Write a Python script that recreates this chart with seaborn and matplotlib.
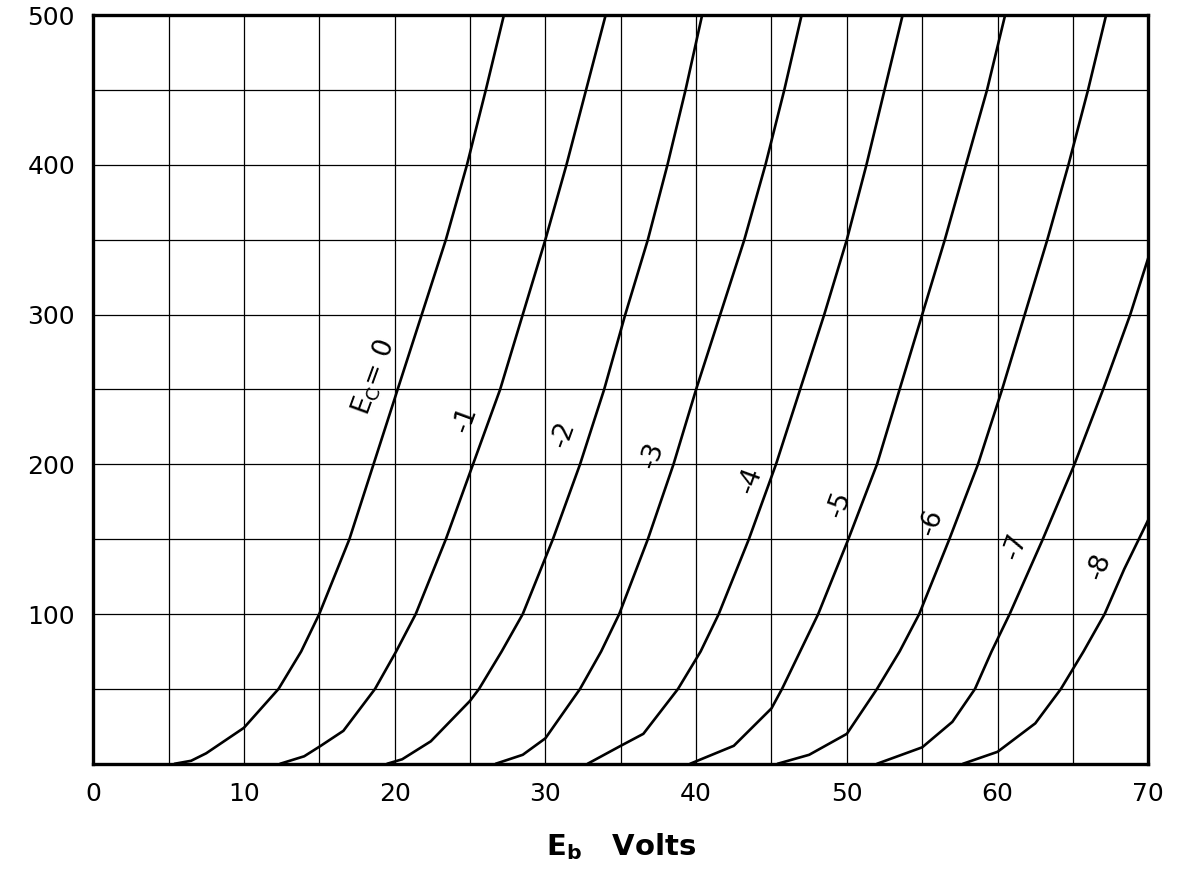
import numpy as np
import pandas as pd
import matplotlib
matplotlib.use('Agg')
import matplotlib.pyplot as plt
import seaborn as sns

# plate characteristics: Eb (volts) vs plate current, one curve per grid volts
grid_volts = [0, -1, -2, -3, -4, -5, -6, -7, -8]

eb_0 = [5.4, 6.5, 7.5, 10.0, 12.3, 13.8, 15.0, 17.0, 18.6, 20.2, 21.8, 23.4, 24.8, 26.05, 27.25]
ib_0 = [0, 2, 7, 24, 50, 75, 100, 150, 200, 250, 300, 350, 400, 450, 500]

eb_1 = [12.4, 14.0, 15.1, 16.6, 18.7, 20.1, 21.4, 23.4, 25.2, 27.0, 28.5, 30.0, 31.4, 32.7, 34.0]
ib_1 = [0, 5, 12, 22, 50, 75, 100, 150, 200, 250, 300, 350, 400, 450, 500]

eb_2 = [19.5, 20.5, 22.4, 25.0, 25.6, 27.1, 28.5, 30.5, 32.3, 33.9, 35.3, 36.8, 38.1, 39.3, 40.4]
ib_2 = [0, 3, 15, 42, 50, 75, 100, 150, 200, 250, 300, 350, 400, 450, 500]

eb_3 = [26.7, 28.5, 30.0, 32.3, 33.7, 34.9, 36.8, 38.5, 40.0, 41.6, 43.2, 44.6, 45.85, 47.0]
ib_3 = [0, 6, 17, 50, 75, 100, 150, 200, 250, 300, 350, 400, 450, 500]

eb_4 = [32.8, 35.0, 36.5, 38.8, 40.3, 41.5, 43.5, 45.3, 46.9, 48.5, 50.0, 51.3, 52.5, 53.7]
ib_4 = [0, 12, 20, 50, 75, 100, 150, 200, 250, 300, 350, 400, 450, 500]

eb_5 = [39.6, 42.5, 45.0, 45.7, 46.9, 48.1, 50.1, 52.0, 53.5, 55.0, 56.5, 57.9, 59.3, 60.5]
ib_5 = [0, 12, 37, 50, 75, 100, 150, 200, 250, 300, 350, 400, 450, 500]

eb_6 = [45.4, 47.5, 50.0, 52.0, 53.5, 54.8, 56.8, 58.7, 60.3, 61.8, 63.3, 64.7, 66.0, 67.2]
ib_6 = [0, 6, 20, 50, 75, 100, 150, 200, 250, 300, 350, 400, 450, 500]

eb_7 = [52.0, 55.0, 57.0, 58.5, 59.6, 60.8, 63.0, 65.1, 67.0, 68.8, 70.0]
ib_7 = [0, 11, 28, 50, 75, 100, 150, 200, 250, 300, 338]

eb_8 = [57.7, 60.0, 62.5, 64.2, 65.7, 67.1, 68.4, 70.0]
ib_8 = [0, 8, 27, 50, 75, 100, 130, 163]

curve_labels = ['E$_\\mathregular{C}$= 0', '-1', '-2', '-3', '-4', '-5', '-6', '-7', '-8']
label_eb = [18.6, 24.7, 31.2, 37.1, 43.6, 49.5, 55.6, 61.2, 66.8]
label_ib = [258, 230, 220, 206, 189, 173, 161, 145, 132]

x_ticks = [0, 10, 20, 30, 40, 50, 60, 70]
y_ticks = [100, 200, 300, 400, 500]

sns.set_style('white')
plt.rcParams['font.family'] = ['DejaVu Sans']
plt.rcParams['text.color'] = 'black'
plt.rcParams['axes.labelcolor'] = 'black'
plt.rcParams['xtick.color'] = 'black'
plt.rcParams['ytick.color'] = 'black'

curves = [(eb_0, ib_0), (eb_1, ib_1), (eb_2, ib_2), (eb_3, ib_3), (eb_4, ib_4),
          (eb_5, ib_5), (eb_6, ib_6), (eb_7, ib_7), (eb_8, ib_8)]
frames = []
for ec, (eb, ib) in zip(grid_volts, curves):
    frames.append(pd.DataFrame({'Eb': eb, 'Ib': ib, 'Ec': ec}))
df = pd.concat(frames, ignore_index=True)

fig, ax = plt.subplots(figsize=(11.79, 8.84), dpi=100)
fig.subplots_adjust(left=0.079, right=0.974, bottom=0.136, top=0.983)

sns.lineplot(data=df, x='Eb', y='Ib', units='Ec', estimator=None, sort=False,
             color='black', lw=1.9, ax=ax)

ax.set_xlim(0, 70)
ax.set_ylim(0, 500)
ax.set_xticks(x_ticks)
ax.set_xticks(np.arange(0, 71, 5), minor=True)
ax.set_yticks(y_ticks)
ax.set_yticks(np.arange(0, 501, 50), minor=True)
ax.grid(which='both', color='black', lw=0.9)
ax.set_axisbelow(True)
ax.tick_params(which='both', length=0)
ax.tick_params(axis='x', pad=13, labelsize=18)
ax.tick_params(axis='y', pad=13, labelsize=18)
for s in ax.spines.values():
    s.set_linewidth(2.4)
    s.set_color('black')

for txt, x, y in zip(curve_labels, label_eb, label_ib):
    ax.text(x, y, txt, fontsize=19, rotation=70, ha='center', va='center',
            rotation_mode='anchor')

ax.set_xlabel(r'$\mathbf{E}_\mathbf{b}$   Volts', fontsize=21, fontweight='bold', labelpad=18)
ax.set_ylabel('')

plt.savefig('out.png', dpi=100)
